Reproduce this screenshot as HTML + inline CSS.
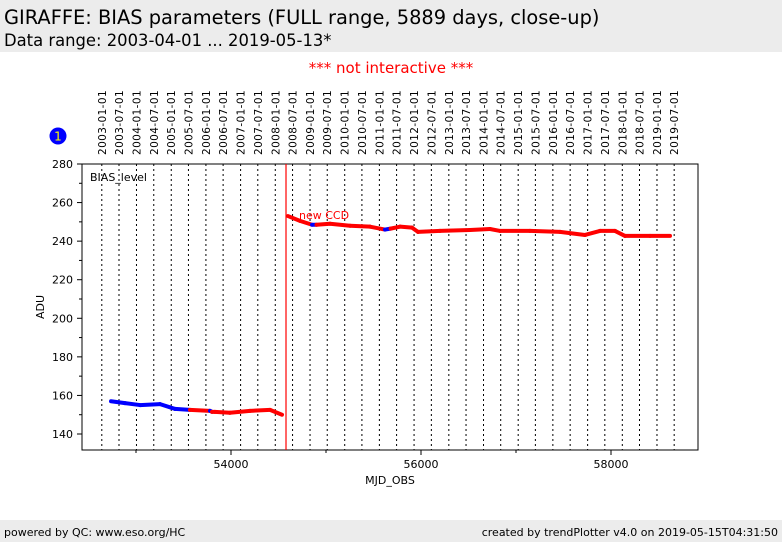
<!DOCTYPE html>
<html><head><meta charset="utf-8">
<style>
body{margin:0;width:782px;height:542px;background:#fff;font-family:"DejaVu Sans","Liberation Sans",sans-serif;overflow:hidden;position:relative}
.hdr{position:absolute;left:0;top:0;width:782px;height:52px;background:#ececec}
.t1{position:absolute;left:4px;top:6px;font-size:19.4px}
.t2{position:absolute;left:4px;top:31px;font-size:16.4px}
.ftr{position:absolute;left:0;top:520px;width:782px;height:22px;background:#ececec;font-size:11px}
</style></head><body>
<div class="hdr">
<div class="t1">GIRAFFE: BIAS parameters (FULL range, 5889 days, close-up)</div>
<div class="t2">Data range: 2003-04-01 ... 2019-05-13*</div>
</div>
<div class="ftr">
<span style="position:absolute;left:4px;top:6px">powered by QC: www.eso.org/HC</span>
<span style="position:absolute;right:4px;top:6px">created by trendPlotter v4.0 on 2019-05-15T04:31:50</span>
</div>
<svg id="chart" width="782" height="542" style="position:absolute;left:0;top:0" font-family="DejaVu Sans, Liberation Sans, sans-serif"></svg>
<script>
const dateLabels=[];for(let y=2003;y<=2019;y++){dateLabels.push(y+'-01-01');dateLabels.push(y+'-07-01');}
const yTicks=[140,160,180,200,220,240,260,280];
const xTicks=[54000,56000,58000];
const mjd=[52737,52884,53042,53253,53411,53568,53779,53800,53830,53989,54200,54411,54537,
 54600,54726,54853,54900,55042,55253,55463,55621,55680,55779,55905,55968,56200,56516,56726,56832,57147,57463,57726,57884,58042,58147,58411,58621];
const vals=[157,156,155,155.5,153,152.5,152,151.5,151.5,151,152,152.5,150,
 253,250.5,248.5,248.5,249,248,247.5,246,246.5,247.5,247,244.8,245.3,245.8,246.3,245.3,245.3,244.8,243.2,245.3,245.3,242.7,242.7,242.7];
const colors=['b','b','b','b','b','r','b','r','r','r','r','r','r',
 'r','r','b','r','r','r','r','b','r','r','r','r','r','r','r','r','r','r','r','r','r','r','r','r'];
const ccdChange=54579;
const L=82,R=698,T=164,B=450;
const X=m=>231+(m-54000)*0.095;
const Y=v=>434-(v-140)*(270/140);
const svg=document.getElementById('chart');const NS='http://www.w3.org/2000/svg';
function mk(t,a,p){const e=document.createElementNS(NS,t);for(const k in a)e.setAttribute(k,a[k]);(p||svg).appendChild(e);return e;}
const toMjd=s=>Date.parse(s+'T00:00:00Z')/86400000+40587;
let e=mk('text',{x:391,y:73,'text-anchor':'middle','font-size':15,fill:'#f00'});e.textContent='*** not interactive ***';


e=mk('circle',{cx:58,cy:136,r:8.5,fill:'#00f'});


e=mk('text',{x:58,y:140.5,'text-anchor':'middle','font-size':12,fill:'#ff0'});e.textContent='1';


dateLabels.forEach(d=>{const x=X(toMjd(d));
 const l=mk('line',{x1:x,x2:x,y1:T,y2:B,stroke:'#000','stroke-width':1,'stroke-dasharray':'2,3'});
 
 
 const t=mk('text',{x:0,y:0,'font-size':10.5,transform:`translate(${x+4},155) rotate(-90)`,'letter-spacing':'0.4'});t.textContent=d;
 
 
});
e=mk('rect',{x:L,y:T,width:R-L,height:B-T,fill:'none',stroke:'#000','stroke-width':1});


yTicks.forEach(v=>{const y=Y(v);mk('line',{x1:L-5,x2:L,y1:y,y2:y,stroke:'#000'});
 const t=mk('text',{x:L-9,y:y+4,'text-anchor':'end','font-size':11});t.textContent=v;
 
 
 if(v<280){const y2=Y(v+10);mk('line',{x1:L-3,x2:L,y1:y2,y2:y2,stroke:'#000'});}});
xTicks.forEach(m=>{const x=X(m);mk('line',{x1:x,x2:x,y1:B,y2:B+5,stroke:'#000'});
 const t=mk('text',{x:x,y:B+18,'text-anchor':'middle','font-size':11});t.textContent=m;
 
 });
[53000,55000,57000].forEach(m=>{const x=X(m);mk('line',{x1:x,x2:x,y1:B,y2:B+3,stroke:'#000'});});
e=mk('text',{x:390,y:484,'text-anchor':'middle','font-size':11});e.textContent='MJD_OBS';


e=mk('text',{x:0,y:0,'text-anchor':'middle','font-size':11,transform:'translate(44,307) rotate(-90)'});e.textContent='ADU';


e=mk('text',{x:90,y:181,'font-size':11});e.textContent='BIAS_level';


e=mk('line',{x1:X(ccdChange),x2:X(ccdChange),y1:T,y2:B,stroke:'#f00','stroke-width':1.2});


e=mk('text',{x:X(ccdChange)+13,y:219,'font-size':11,fill:'#f00'});e.textContent='new CCD';


for(let i=0;i<mjd.length-1;i++){
 if(mjd[i]<ccdChange&&mjd[i+1]>ccdChange)continue;
 const s=mk('line',{x1:X(mjd[i]),y1:Y(vals[i]),x2:X(mjd[i+1]),y2:Y(vals[i+1]),stroke:colors[i]=='b'?'#00f':'#f00','stroke-width':4,'stroke-linecap':'round'});
 
 
}
</script>
</body></html>
